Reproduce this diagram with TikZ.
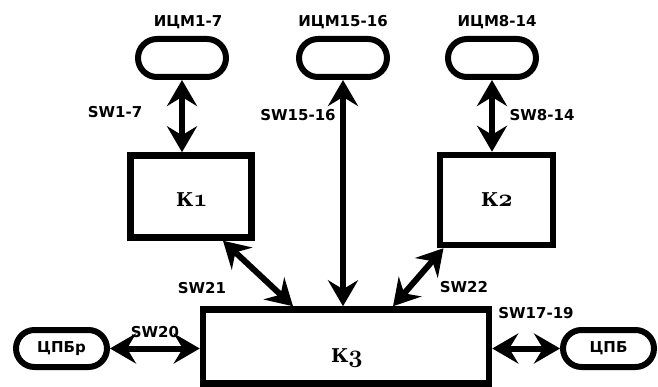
\documentclass[tikz,border=0pt]{standalone}
\usepackage{fontspec}
\setmainfont{DejaVu Sans}
\newfontfamily\kfont{DejaVu Serif}
\usetikzlibrary{arrows.meta,shapes.misc,calc}
% old-style figures for the block numbers
\newcommand\osnum[1]{{\fontsize{24}{24}\usefont{OML}{cmm}{b}{it}#1}}
\begin{document}
\begin{tikzpicture}[x=1pt,y=-1pt,
  pill/.style={draw,line width=6pt,rounded rectangle,minimum width=88pt,minimum height=38pt,inner sep=0pt},
  blockbox/.style={draw,line width=6.5pt,rectangle,inner sep=0pt},
  ktext/.style={font=\kfont\bfseries\fontsize{19}{21}\selectfont,inner sep=0pt},
  lbl/.style={font=\bfseries\fontsize{15}{17}\selectfont,inner sep=0pt},
  tip/.tip={Stealth[length=26pt 0,width=30pt 0,inset=9pt 0]},
  link/.style={line width=6pt,{tip}-{tip}}
]
\useasboundingbox (0,0) rectangle (658,387);

% interface modules on top
\node[pill] (i1) at (182,58) {};
\node[pill] (i2) at (343,58) {};
\node[pill] (i3) at (492,58) {};
\node[lbl] (t1) at (188,22) {ИЦМ1-7};
\node[lbl] (t2) at (343,22) {ИЦМ15-16};
\node[lbl] (t3) at (497,22) {ИЦМ8-14};

% switch blocks
\node[blockbox,minimum width=121pt,minimum height=82pt] (k1) at (191,196.5) {};
\node[blockbox,minimum width=113pt,minimum height=90pt] (k2) at (496.5,200) {};
\node[blockbox,minimum width=286pt,minimum height=74pt] (k3) at (346,346.5) {};
\node[ktext,anchor=base] at (192,207) {К\osnum{1}};
\node[ktext,anchor=base] at (497,207) {К\osnum{2}};
\node[ktext,anchor=base] at (347,362) {К\osnum{3}};

% side modules
\node[pill,minimum width=91pt,minimum height=37pt] (cl) at (61.5,348.5) {};
\node[pill,minimum width=91pt,minimum height=37pt] (cr) at (608.5,348.5) {};
\node[lbl] at (cl) {ЦПБр};
\node[lbl] at (cr) {ЦПБ};

% links
\draw[link] (i1.south) -- (i1.south |- k1.north);
\draw[link] (i3.south) -- (i3.south |- k2.north);
\draw[link] (i2.south) -- (i2.south |- k3.north);
\draw[link] ([xshift=32pt]k1.south) -- ([xshift=-53pt]k3.north);
\draw[link] ([xshift=-53pt]k2.south) -- ([xshift=47pt]k3.north);
\draw[link] (cl.east) -- (cl.east -| k3.west);
\draw[link] (k3.east |- cr.west) -- (cr.west);

% link labels
\node[lbl] (s1) at (115,112) {SW1-7};
\node[lbl] (s2) at (298,115) {SW15-16};
\node[lbl] (s3) at (542,115) {SW8-14};
\node[lbl] (s4) at (202,288) {SW21};
\node[lbl] (s5) at (464,287) {SW22};
\node[lbl] (s6) at (155,332) {SW20};
\node[lbl] (s7) at (536,313) {SW17-19};
\end{tikzpicture}
\end{document}
